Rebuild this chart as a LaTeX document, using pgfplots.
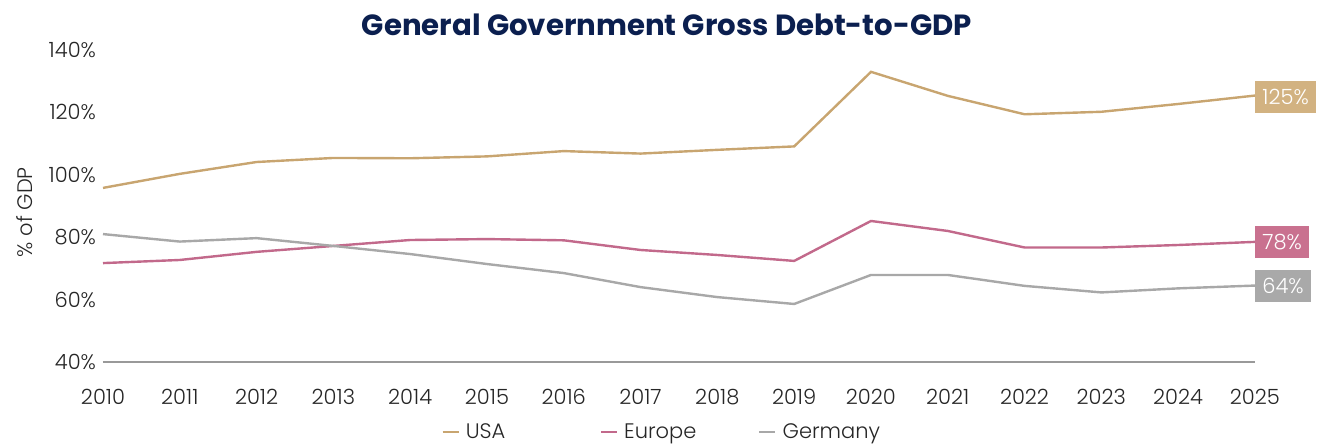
\documentclass[border=0pt]{standalone}
\usepackage{fontspec}
\setmainfont{Poppins}[UprightFont=* Light, BoldFont=* Bold]
\usepackage{pgfplots}
\pgfplotsset{compat=1.18}
\definecolor{usa}{HTML}{C8A570}
\definecolor{eur}{HTML}{C2698B}
\definecolor{ger}{HTML}{A8A8A8}
\definecolor{usabox}{HTML}{D2B281}
\definecolor{eurbox}{HTML}{C9718F}
\definecolor{gerbox}{HTML}{A9A9A9}
\definecolor{titlec}{HTML}{0B1F4F}
\definecolor{txt}{HTML}{262626}
\begin{document}
\begin{tikzpicture}
\begin{axis}[
  scale only axis,
  width=576pt, height=156pt,
  xmin=2010, xmax=2025, ymin=40, ymax=140,
  xtick={2010,...,2025},
  ytick={40,60,...,140},
  xticklabel style={/pgf/number format/1000 sep={}, yshift=-10pt},
  yticklabel={\pgfmathprintnumber{\tick}\%},
  /pgf/number format/assume math mode=true,
  major tick length=0pt,
  axis x line*=bottom, axis y line*=left,
  x axis line style={draw=gray!80, line width=0.8pt, -},
  y axis line style={draw=none},
  tick label style={font=\fontsize{10.5}{12}\selectfont, text=txt},
  ylabel={\% of GDP},
  ylabel style={at={(axis description cs:-0.0677,0.48)}, anchor=center, font=\fontsize{10.5}{12}\selectfont, text=txt},
  clip=false,
  legend columns=3,
  legend style={at={(0.5,-0.225)}, anchor=center, draw=none, font=\fontsize{10.5}{12}\selectfont, text=txt,
    nodes={text width=64pt, align=left, inner sep=3pt}},
  legend image code/.code={\draw[#1, line width=1.2pt] (0pt,0pt) -- (8pt,0pt);},
  every axis plot/.append style={line width=1.2pt},
]
\addplot[usa] coordinates {(2010,95.8)(2011,100.3)(2012,104.1)(2013,105.4)(2014,105.3)(2015,105.9)(2016,107.6)(2017,106.8)(2018,108.0)(2019,109.1)(2020,133.0)(2021,125.3)(2022,119.4)(2023,120.2)(2024,122.7)(2025,125.4)};
\addlegendentry{USA}
\addplot[eur] coordinates {(2010,71.7)(2011,72.7)(2012,75.3)(2013,77.2)(2014,79.1)(2015,79.4)(2016,79.0)(2017,75.9)(2018,74.3)(2019,72.4)(2020,85.2)(2021,82.0)(2022,76.7)(2023,76.7)(2024,77.5)(2025,78.5)};
\addlegendentry{Europe}
\addplot[ger] coordinates {(2010,81.0)(2011,78.6)(2012,79.7)(2013,77.2)(2014,74.6)(2015,71.4)(2016,68.5)(2017,64.0)(2018,60.8)(2019,58.6)(2020,67.9)(2021,67.9)(2022,64.4)(2023,62.3)(2024,63.6)(2025,64.5)};
\addlegendentry{Germany}
\node[fill=usabox, text=white, anchor=west, minimum height=16pt, inner xsep=3.5pt, inner ysep=0pt, font=\fontsize{10.5}{12}\selectfont] at (axis cs:2025,124.9) {125\%};
\node[fill=eurbox, text=white, anchor=west, minimum height=16pt, inner xsep=3.5pt, inner ysep=0pt, font=\fontsize{10.5}{12}\selectfont] at (axis cs:2025,78.5) {78\%};
\node[fill=gerbox, text=white, anchor=west, minimum height=16pt, inner xsep=3.5pt, inner ysep=0pt, font=\fontsize{10.5}{12}\selectfont] at (axis cs:2025,64.3) {64\%};
\node[font=\bfseries\fontsize{14.6}{16}\selectfont, text=titlec] at ([yshift=12.5pt, xshift=-6pt]rel axis cs:0.5,1) {General Government Gross Debt-to-GDP};
\end{axis}
\pgfresetboundingbox
\path (current axis.south west) ++(-51.5pt,-41.5pt) rectangle ([xshift=33.5pt, yshift=25pt]current axis.north east);
\end{tikzpicture}
\end{document}
